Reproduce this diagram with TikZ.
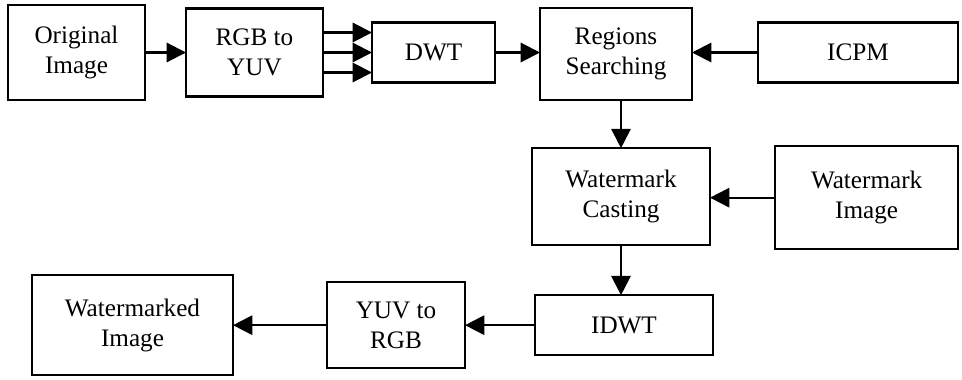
\documentclass[tikz,border=0pt]{standalone}
\usepackage{fontspec}
\setmainfont{Liberation Serif}
\usetikzlibrary{arrows.meta, positioning}

\begin{document}
\begin{tikzpicture}[node distance=1.4cm,>={Triangle[length=0.58cm,width=0.58cm]},
        blk/.style={draw, line width=1.9pt, outer sep=0pt, align=center, inner sep=2pt, font=\fontsize{21.5}{25.5}\selectfont},
        flow/.style={->, line width=1.8pt}]
        \useasboundingbox (-2.295,1.575) rectangle (26.565,-9.795);
        % top row
        \node[blk, minimum width=4.11cm, minimum height=2.85cm] (orig) at (0,0) {Original\\Image};
        \node[blk, minimum width=4.11cm, minimum height=2.64cm, right=1.23cm of orig] (rgb) {RGB to\\YUV};
        \node[blk, minimum width=3.69cm, minimum height=1.8cm, right=1.47cm of rgb] (dwt) {DWT};
        \node[blk, minimum width=4.56cm, minimum height=2.76cm, right=1.35cm of dwt, yshift=-0.05cm] (reg) {Regions\\Searching};
        \node[blk, minimum width=6.0cm, minimum height=1.8cm, right=1.98cm of reg, yshift=0.05cm] (icpm) {ICPM};
        % middle row
        \node[blk, minimum width=5.34cm, minimum height=2.91cm, below=1.44cm of reg, xshift=0.15cm] (cast) {Watermark\\Casting};
        \node[blk, minimum width=5.5cm, minimum height=3.09cm, right=1.95cm of cast, yshift=-0.03cm] (wimg) {Watermark\\Image};
        % bottom row
        \node[blk, minimum width=5.34cm, minimum height=1.8cm, below=1.5cm of cast, xshift=0.09cm] (idwt) {IDWT};
        \node[blk, minimum width=4.14cm, minimum height=2.58cm, left=2.1cm of idwt] (yuv) {YUV to\\RGB};
        \node[blk, minimum width=6.03cm, minimum height=3cm, left=2.82cm of yuv] (wmkd) {Watermarked\\Image};
        \draw[flow] (orig) -- (rgb);
        \foreach \dy in {0.6,0,-0.6} \draw[flow] ([yshift=\dy cm]rgb.east) -- ([yshift=\dy cm]dwt.west);
        \draw[flow] (dwt) -- (dwt -| reg.west);
        \draw[flow] (icpm) -- (icpm -| reg.east);
        \draw[flow] (reg.south -| cast.north) -- (cast.north);
        \draw[flow] (wimg) -- (wimg -| cast.east);
        \draw[flow] (cast.south) -- (cast.south |- idwt.north);
        \draw[flow] (idwt) -- (yuv);
        \draw[flow] (yuv) -- (wmkd);
    \end{tikzpicture}
\end{document}
